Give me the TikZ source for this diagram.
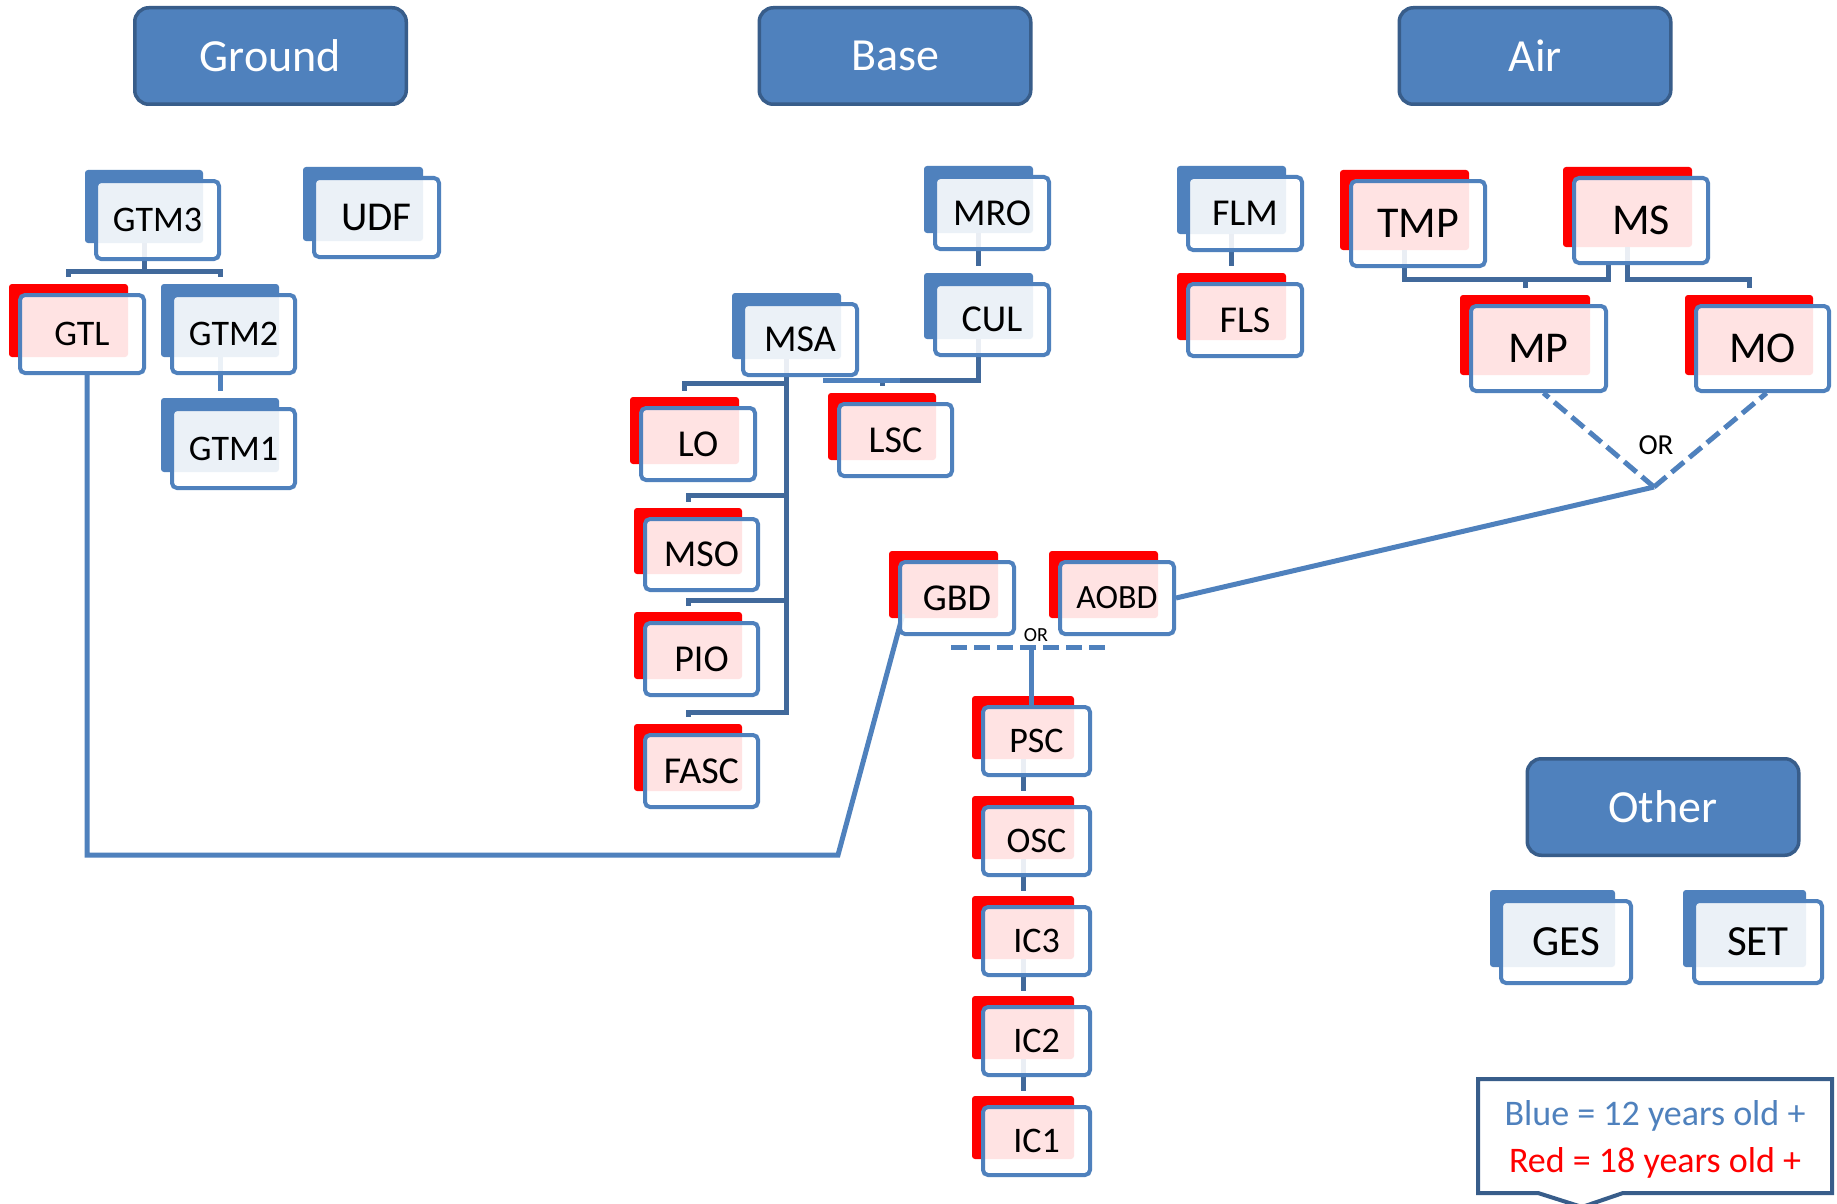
\documentclass[tikz,border=0pt]{standalone}
\usepackage{fontspec}
\setmainfont{Carlito}
\usetikzlibrary{calc}
\pgfdeclarelayer{canvas}
\pgfdeclarelayer{background}
\pgfsetlayers{canvas,background,main}
\definecolor{accent}{RGB}{79,129,189}
\definecolor{connline}{RGB}{65,105,155}
\definecolor{hdrborder}{RGB}{56,93,138}
\definecolor{backred}{RGB}{255,0,0}
\tikzset{
  fbox/.style={draw=accent, line width=4pt, rounded corners=5pt, fill=white,
    fill opacity=0.89, text opacity=1, inner sep=0pt, text=black},
  hdr/.style={draw=hdrborder, line width=3.5pt, fill=accent, rounded corners=14pt,
    text=white, minimum width=271.5pt, minimum height=96.5pt,
    font=\fontsize{46pt}{52pt}\selectfont},
  org/.style={draw=connline, line width=5pt},
  lnk/.style={draw=accent, line width=5pt},
  orlnk/.style={lnk, dash pattern=on 16pt off 7pt},
}
% name, cx, cy, w, h, font size, back colour, text
\newcommand\mkbox[8]{%
  \node[fbox, minimum width=#4pt, minimum height=#5pt,
        font=\fontsize{#6pt}{#6pt}\selectfont] (#1) at (#2,#3) {#8};
  \coordinate (#1-bb) at ($(#1.south)+(-13.5pt,18pt)$);
  \coordinate (#1-bt) at ($(#1.north)+(-13.5pt,9pt)$);
  \begin{pgfonlayer}{background}
    \fill[#7, rounded corners=3pt] ([shift={(-9pt,9pt)}]#1.north west)
      rectangle ([shift={(-18pt,18pt)}]#1.south east);
  \end{pgfonlayer}}
\begin{document}
\begin{tikzpicture}[x=1pt,y=-1pt]
\useasboundingbox (0,0) rectangle (1837,1204);
\begin{pgfonlayer}{canvas}
  \fill[white] (0,0) rectangle (1837,1204);
\end{pgfonlayer}

% headers
\node[hdr] (ground) at (270.5,56) {Ground};
\node[hdr] (base) at (895,56) {Base};
\node[hdr] (air) at (1535,56) {Air};
\node[hdr] (other) at (1663,807) {Other};

% Ground
\mkbox{GTM3}{157.5}{220}{123}{78}{36}{accent}{GTM3}
\mkbox{UDF}{376.5}{217.5}{125}{79}{41}{accent}{UDF}
\mkbox{GTL}{82}{334}{124}{78}{36}{backred}{GTL}
\mkbox{GTM2}{233.5}{334}{123}{78}{36}{accent}{GTM2}
\mkbox{GTM1}{233.5}{448.5}{123}{79}{36}{accent}{GTM1}

% Base
\mkbox{MRO}{992}{213}{114}{72}{38}{accent}{MRO}
\mkbox{CUL}{992}{319.5}{114}{71}{38}{accent}{CUL}
\mkbox{MSA}{800}{339.5}{114}{71}{38}{accent}{MSA}
\mkbox{LO}{698}{444}{114}{72}{38}{backred}{LO}
\mkbox{LSC}{895.5}{440}{113}{72}{38}{backred}{LSC}
\mkbox{MSO}{701.5}{554.5}{113}{71}{38}{backred}{MSO}
\mkbox{PIO}{701.5}{659}{113}{72}{38}{backred}{PIO}
\mkbox{FASC}{701.5}{771}{113}{72}{38}{backred}{FASC}
\mkbox{GBD}{957}{598}{114}{72}{38}{backred}{GBD}
\mkbox{AOBD}{1117}{598}{114}{72}{34}{backred}{AOBD}
\mkbox{PSC}{1036.5}{741}{107}{68}{36}{backred}{PSC}
\mkbox{OSC}{1036.5}{841}{107}{68}{36}{backred}{OSC}
\mkbox{IC3}{1036.5}{941}{107}{68}{36}{backred}{IC3}
\mkbox{IC2}{1036.5}{1041}{107}{68}{36}{backred}{IC2}
\mkbox{IC1}{1036.5}{1141}{107}{68}{36}{backred}{IC1}

% Air
\mkbox{FLM}{1245}{213.5}{114}{73}{38}{accent}{FLM}
\mkbox{FLS}{1245}{320}{114}{72}{38}{backred}{FLS}
\mkbox{TMP}{1418}{223.5}{134}{85}{44}{backred}{TMP}
\mkbox{MS}{1641}{220.5}{134}{85}{44}{backred}{MS}
\mkbox{MP}{1538.5}{348.5}{135}{85}{44}{backred}{MP}
\mkbox{MO}{1762.5}{348.5}{133}{85}{44}{backred}{MO}

% Other
\mkbox{GES}{1566}{942}{130}{82}{43}{accent}{GES}
\mkbox{SET}{1758}{942}{128}{82}{43}{accent}{SET}

% OR labels
\node[font=\fontsize{29pt}{32pt}\selectfont] (or1) at (1656,445) {OR};
\node[font=\fontsize{20pt}{22pt}\selectfont] (or2) at (1036,635) {OR};

% helper coordinates
\coordinate (gy) at (0,271);
\coordinate (ms0) at (0,380);
\coordinate (ms1) at (0,383);
\coordinate (ms2) at (0,495);
\coordinate (ms3) at (0,600);
\coordinate (ms4) at (0,712);
\coordinate (lscl) at (823,380);
\coordinate (ay) at (0,279);
\coordinate (msl) at ($(MS.south)+(-33pt,0)$);
\coordinate (orv) at (1654,487);
\coordinate (orl) at (951,647);
\coordinate (orr) at (1111,647);
\coordinate (orj) at (1031,647);
\coordinate (gbc) at (838,855);

\begin{pgfonlayer}{background}
  % Ground tree
  \draw[org] (GTM3-bb) -- (GTM3-bb |- gy) -| ([yshift=7pt]GTL-bt);
  \draw[org] (GTM3-bb |- gy) -| ([yshift=7pt]GTM2-bt);
  \draw[lnk] (GTM2-bb) -- ([yshift=7pt]GTM1-bt);
  % Base tree
  \draw[org] (MRO-bb) -- ([yshift=7pt]CUL-bt);
  \draw[org] (MSA-bb) -- (MSA-bb |- ms4) -| ([yshift=7pt]FASC-bt);
  \draw[org] (MSA-bb |- ms1) -| ([yshift=6pt]LO-bt);
  \draw[org] (MSA-bb |- ms2) -| ([yshift=6pt]MSO-bt);
  \draw[org] (MSA-bb |- ms3) -| ([yshift=6pt]PIO-bt);
  \draw[org] (CUL-bb) -- (CUL-bb |- ms0) -| ([yshift=7pt]LSC-bt);
  \draw[lnk] (lscl) -- ([xshift=18pt]lscl -| LSC-bt);
  % Air tree
  \draw[org] (FLM-bb) -- ([yshift=7pt]FLS-bt);
  \draw[org] (TMP-bb) -- (TMP-bb |- ay) -- (msl |- ay) -- (msl);
  \draw[org] (MP-bt |- ay) -- ([yshift=7pt]MP-bt);
  \draw[org] (MS-bb) -- (MS-bb |- ay) -| ([yshift=7pt]MO-bt);
  % OR (air)
  \draw[orlnk] (orv) -- ([xshift=5pt]MP.south);
  \draw[orlnk] (orv) -- ([xshift=4pt]MO.south);
  \draw[lnk] (orv) -- (AOBD.east);
  % OR (base)
  \draw[orlnk] (orl) -- (orr);
  \draw[lnk] (orj) -- (orj |- PSC.north);
  \draw[org] (PSC-bb) -- ([yshift=5pt]OSC-bt);
  \draw[org] (OSC-bb) -- ([yshift=5pt]IC3-bt);
  \draw[org] (IC3-bb) -- ([yshift=5pt]IC2-bt);
  \draw[org] (IC2-bb) -- ([yshift=5pt]IC1-bt);
  % GTL to GBD
  \draw[lnk] ([xshift=5pt]GTL.south) |- (gbc) -- ([shift={(5pt,22pt)}]GBD.south west);
\end{pgfonlayer}

% legend
\draw[draw=hdrborder, line width=4pt, fill=white]
  (1478,1079) -- (1832,1079) -- (1832,1193) -- (1623,1193) -- (1582,1207)
  -- (1538,1193) -- (1478,1193) -- cycle;
\node[anchor=base, text=accent, font=\fontsize{36pt}{40pt}\selectfont] (leg1) at (1655,1125) {Blue = 12 years old +};
\node[anchor=base, text=backred, font=\fontsize{36pt}{40pt}\selectfont] (leg2) at (1655,1172) {Red = 18 years old +};
\end{tikzpicture}
\end{document}
